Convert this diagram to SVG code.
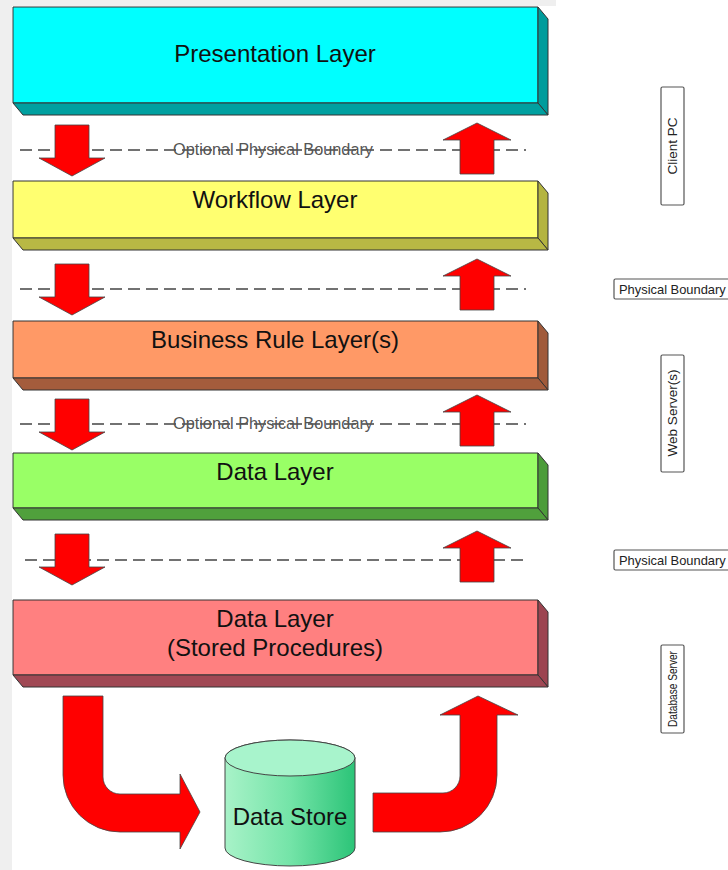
<svg xmlns="http://www.w3.org/2000/svg" width="728" height="870" viewBox="0 0 728 870">
<style>
.lbl{font-family:"Liberation Sans",Arial,sans-serif;font-size:24px;fill:#111;text-anchor:middle}
.opt{font-family:"Liberation Sans",Arial,sans-serif;font-size:16.3px;fill:#555;text-anchor:middle}
.side{font-family:"Liberation Sans",Arial,sans-serif;font-size:13.5px;fill:#222}
.pb{font-family:"Liberation Sans",Arial,sans-serif;font-size:12.9px;fill:#222}
.dash{stroke:#444;stroke-width:1.5;stroke-dasharray:12 6;fill:none}
.edge{stroke:#333;stroke-width:1;stroke-linejoin:round}
.arr{fill:#ff0000;stroke:#444;stroke-width:0.8;stroke-linejoin:miter}
.tag{fill:#fff;stroke:#555;stroke-width:1.2}
</style>
<defs>
<path id="dn" d="M-17,0 H17 V33 H33 L0,51 L-33,33 H-17 Z"/>
<path id="up" d="M0,0 L34,17 H17 V51 H-17 V17 H-34 Z"/>
<linearGradient id="cyl" x1="0" y1="0" x2="1" y2="0">
<stop offset="0" stop-color="#a8f2c8"/>
<stop offset="0.5" stop-color="#74e4a8"/>
<stop offset="1" stop-color="#2cc478"/>
</linearGradient>
</defs>
<rect x="0" y="0" width="728" height="870" fill="#ffffff"/>
<rect x="0" y="0" width="556" height="6" fill="#efefef"/>
<rect x="0" y="0" width="12" height="870" fill="#efefef"/>

<g id="boundaries">
<line class="dash" x1="20" y1="150" x2="526" y2="150"/>
<line class="dash" x1="20" y1="289" x2="526" y2="289"/>
<line class="dash" x1="20" y1="424" x2="526" y2="424"/>
<line class="dash" x1="25" y1="560" x2="528" y2="560"/>
<text class="opt" x="273" y="155">Optional Physical Boundary</text>
<text class="opt" x="273" y="429">Optional Physical Boundary</text>
</g>

<g id="presentation-layer">
<rect class="edge" x="13" y="7" width="525" height="96" fill="#00ffff"/>
<polygon class="edge" points="538,7 548,19 548,115 538,103" fill="#009c9c"/>
<polygon class="edge" points="13,103 538,103 548,115 23,115" fill="#00a0a0"/>
<text class="lbl" x="275" y="62">Presentation Layer</text>
</g>

<g id="workflow-layer">
<rect class="edge" x="13" y="181" width="525" height="57" fill="#ffff70"/>
<polygon class="edge" points="538,181 548,193 548,250 538,238" fill="#b4b440"/>
<polygon class="edge" points="13,238 538,238 548,250 23,250" fill="#b8b844"/>
<text class="lbl" x="275" y="208">Workflow Layer</text>
</g>

<g id="business-rule-layer">
<rect class="edge" x="13" y="321" width="525" height="57" fill="#ff9966"/>
<polygon class="edge" points="538,321 548,333 548,390 538,378" fill="#a05a3a"/>
<polygon class="edge" points="13,378 538,378 548,390 23,390" fill="#a45c3c"/>
<text class="lbl" x="275" y="348">Business Rule Layer(s)</text>
</g>

<g id="data-layer">
<rect class="edge" x="13" y="453" width="525" height="55" fill="#99ff66"/>
<polygon class="edge" points="538,453 548,465 548,520 538,508" fill="#4c9c3a"/>
<polygon class="edge" points="13,508 538,508 548,520 23,520" fill="#50a03c"/>
<text class="lbl" x="275" y="480">Data Layer</text>
</g>

<g id="stored-procedures-layer">
<rect class="edge" x="13" y="600" width="525" height="75" fill="#ff8080"/>
<polygon class="edge" points="538,600 548,612 548,687 538,675" fill="#9c4450"/>
<polygon class="edge" points="13,675 538,675 548,687 23,687" fill="#a04854"/>
<text class="lbl" x="275" y="627">Data Layer</text>
<text class="lbl" x="275" y="656">(Stored Procedures)</text>
</g>

<g id="data-store">
<path d="M225,758 A65,18 0 0 1 355,758 V848 A65,18 0 0 1 225,848 Z" fill="url(#cyl)" stroke="#444" stroke-width="1"/>
<ellipse cx="290" cy="758" rx="65" ry="18" fill="#a8f4cc" stroke="#444" stroke-width="1"/>
<text class="lbl" x="290" y="825">Data Store</text>
</g>

<g id="connectors">
<use href="#dn" class="arr" x="72" y="125"/>
<use href="#dn" class="arr" x="72" y="264"/>
<use href="#dn" class="arr" x="72" y="399"/>
<use href="#dn" class="arr" x="72" y="534"/>
<use href="#up" class="arr" x="477" y="123"/>
<use href="#up" class="arr" x="477" y="259"/>
<use href="#up" class="arr" x="477" y="395"/>
<use href="#up" class="arr" x="477" y="531"/>
<path class="arr" d="M63,696 H103 V777 A17,17 0 0 0 120,794 H180 V774 L200,812 L180,849 V832 H120 A57,57 0 0 1 63,775 Z"/>
<path class="arr" d="M373,793 H443 A17,17 0 0 0 460,776 V715 H440 L478,696 L518,715 H497 V775 A57,57 0 0 1 440,832 H373 Z"/>
</g>

<g id="client-pc">
<rect class="tag" x="661" y="87" width="23" height="118" rx="1.5"/>
<text class="side" text-anchor="middle" transform="translate(677,146) rotate(-90)">Client PC</text>
</g>
<g id="physical-boundary-1">
<rect class="tag" x="614" y="279" width="120" height="20" rx="1.5"/>
<text class="pb" x="619" y="294">Physical Boundary</text>
</g>
<g id="web-servers">
<rect class="tag" x="661" y="355" width="23" height="117" rx="1.5"/>
<text class="side" text-anchor="middle" transform="translate(677,413) rotate(-90)">Web Server(s)</text>
</g>
<g id="physical-boundary-2">
<rect class="tag" x="614" y="550" width="120" height="20" rx="1.5"/>
<text class="pb" x="619" y="565">Physical Boundary</text>
</g>
<g id="database-server">
<rect class="tag" x="661" y="645" width="23" height="88" rx="1.5"/>
<text class="side" text-anchor="middle" textLength="76" lengthAdjust="spacingAndGlyphs" transform="translate(677,689) rotate(-90)">Database Server</text>
</g>
</svg>
